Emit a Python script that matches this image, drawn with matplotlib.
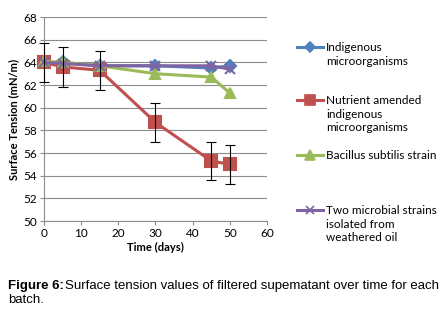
import matplotlib.pyplot as plt
from matplotlib.lines import Line2D

# data
days = [0, 5, 15, 30, 45, 50]
indigenous = [64.0, 64.0, 63.7, 63.7, 63.5, 63.7]
nutrient = [64.0, 63.6, 63.3, 58.7, 55.3, 55.0]
nutrient_err = [1.7, 1.75, 1.7, 1.7, 1.7, 1.7]
bacillus = [64.1, 64.0, 63.7, 63.0, 62.7, 61.3]
two_strains = [64.0, 63.9, 63.7, 63.7, 63.7, 63.4]

labels = ['Indigenous\nmicroorganisms',
          'Nutrient amended\nindigenous\nmicroorganisms',
          'Bacillus subtilis strain',
          'Two microbial strains\nisolated from\nweathered oil']
colors = ['#4F81BD', '#C0504D', '#9BBB59', '#8064A2']
markers = ['D', 's', '^', 'x']
msizes = [6.5, 8.5, 7.5, 7]

plt.rcParams['font.family'] = ['Lato', 'DejaVu Sans']

fig = plt.figure(figsize=(4.43, 3.10), dpi=100)
ax = fig.add_axes([0.0993, 0.287, 0.5034, 0.658])

series = [indigenous, nutrient, bacillus, two_strains]
for i, ys in enumerate(series):
    ax.plot(days, ys, color=colors[i], marker=markers[i], markersize=msizes[i],
            lw=2.2, mew=1.5, zorder=3 + i * 0.1, clip_on=False)
eb = ax.errorbar(days, nutrient, yerr=nutrient_err, fmt='none', ecolor='black',
                 elinewidth=0.8, capsize=3.5, capthick=0.8, zorder=5)
for art in eb.lines[1] + eb.lines[2]:
    art.set_clip_on(False)

ax.set_xlim(0, 60)
ax.set_ylim(50, 68)
ax.set_xticks(range(0, 61, 10))
ax.set_yticks(range(50, 69, 2))
ax.grid(axis='y', color='#8c8c8c', lw=0.8)
ax.set_axisbelow(True)
for s in ['top', 'right']:
    ax.spines[s].set_visible(False)
for s in ['left', 'bottom']:
    ax.spines[s].set_color('#8c8c8c')
ax.tick_params(labelsize=8.5, length=3, color='#8c8c8c', pad=2)
ax.set_xlabel('Time (days)', fontsize=8, fontweight='bold', labelpad=2)
ax.set_ylabel('Surface Tension (mN/m)', fontsize=8, fontweight='bold', labelpad=3)

# legend drawn by hand to keep Excel-like spacing
leg_y = [47, 100, 155, 210]
for i in range(4):
    yf = 1 - leg_y[i] / 310
    fig.add_artist(Line2D([297 / 443, 323 / 443], [yf, yf], color=colors[i], lw=2.2,
                          transform=fig.transFigure))
    fig.add_artist(Line2D([310 / 443], [yf], color=colors[i], marker=markers[i],
                          markersize=msizes[i] - 1, mew=1.2, transform=fig.transFigure))
    fig.text(326 / 443, 1 - (leg_y[i] - 5) / 310, labels[i], fontsize=8.5,
             va='top', ha='left', linespacing=1.3)

fig.text(8 / 443, 1 - 286 / 310, 'Figure 6:', fontsize=9.5, fontweight='bold',
         family='Liberation Sans', va='center')
fig.text(65 / 443, 1 - 286 / 310,
         'Surface tension values of filtered supematant over time for each',
         fontsize=9.5, family='Liberation Sans', va='center')
fig.text(8 / 443, 1 - 300 / 310, 'batch.', fontsize=9.5,
         family='Liberation Sans', va='center')

fig.savefig('out.png', dpi=100)
